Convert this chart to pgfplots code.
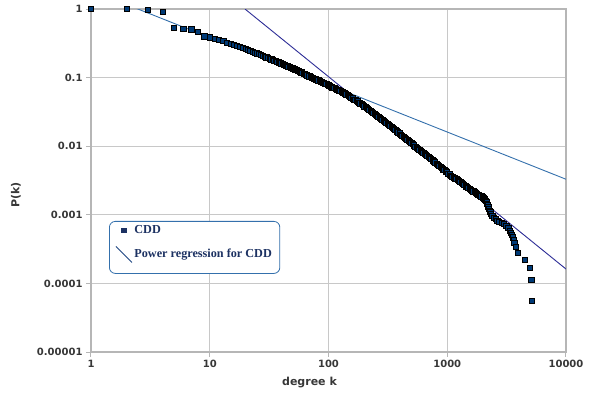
\documentclass[border=0pt]{standalone}
\usepackage{fontspec}
\setmainfont{DejaVu Sans}
\newfontfamily\legfont{Liberation Serif}
\usepackage{pgfplots}
\pgfplotsset{compat=1.18}
\definecolor{cdd}{RGB}{0,58,118}
\definecolor{reg1}{RGB}{52,112,172}
\definecolor{reg2}{RGB}{44,44,150}
\definecolor{gridc}{RGB}{200,200,200}
\definecolor{axc}{RGB}{182,182,182}
\definecolor{txt}{RGB}{55,55,55}
\definecolor{legtxt}{RGB}{28,49,98}
\definecolor{legbox}{RGB}{52,112,172}
\definecolor{legline}{RGB}{30,70,130}
\begin{document}
\begin{tikzpicture}
\useasboundingbox (-91bp,-42bp) rectangle (501bp,352bp);
\begin{axis}[
  at={(0,0)}, anchor=south west,
  scale only axis, width=475bp, height=343bp,
  xmode=log, ymode=log,
  xmin=1, xmax=10000, ymin=0.00001, ymax=1,
  xtick={1,10,100,1000,10000},
  xticklabels={1,10,100,1000,10000},
  ytick={0.00001,0.0001,0.001,0.01,0.1,1},
  yticklabels={0.00001,0.0001,0.001,0.01,0.1,1},
  minor tick length=0pt,
  minor tick style={draw=none},
  xtick pos=bottom, ytick pos=left,
  tick align=outside,
  major tick length=5bp,
  tick style={axc, line width=1bp},
  axis line style={axc, line width=1.2bp},
  grid=major,
  major grid style={gridc, line width=0.9bp},
  ticklabel style={font=\fontsize{10bp}{12bp}\selectfont\bfseries, text=txt},
  xlabel={degree k},
  xlabel style={at={(axis description cs:0.46,-0.0729)}, anchor=north, inner sep=0pt, font=\fontsize{11bp}{13bp}\selectfont\bfseries, text=txt},
  ylabel={P(k)},
  ylabel style={at={(axis description cs:-0.158,0.458)}, anchor=center, inner sep=0pt, font=\fontsize{11bp}{13bp}\selectfont\bfseries, text=txt},
  legend style={at={(axis description cs:0.0379,0.382)}, anchor=north west, draw=legbox, line width=0.8bp, rounded corners=6bp, fill=white, font=\legfont\fontsize{12.2bp}{14bp}\selectfont\bfseries, text=legtxt, inner xsep=6bp, inner ysep=2bp, row sep=9bp},
  legend cell align=left,
]
\addplot[only marks, mark=square*, mark size=2.6bp, mark options={fill=cdd, draw=black, line width=0.7bp},
  legend image code/.code={\path[draw=none] (0bp,-6bp) rectangle (16bp,6bp);\fill[sharp corners, legtxt] (5.8bp,-2.2bp) rectangle (10.2bp,2.2bp);}]
coordinates {
(1,1) (2,1) (3,0.97) (4,0.905) (5,0.535) (6,0.52) (7,0.505) (8,0.468) (9,0.40)
(10,0.385) (11,0.37) (12,0.355) (13,0.34) (14,0.325) (15,0.312) (16,0.30) (17,0.29)
(18,0.28) (19,0.27) (20,0.26) (21,0.252) (22,0.245) (23,0.238) (24,0.231) (25,0.225)
(26,0.219) (27,0.213) (28,0.208) (29,0.203) (30,0.198) (31,0.193) (32,0.189) (33,0.185) (34,0.181) (35,0.177) (36,0.174)
(37,0.170) (38,0.167) (39,0.164) (40,0.161) (41,0.158) (42,0.155) (43,0.152) (44,0.150) (45,0.147) (46,0.145) (47,0.142) (48,0.140) (49,0.138) (50,0.136) (51,0.134) (52,0.132) (53,0.130)
(54,0.128) (55,0.126) (56,0.124) (57,0.122) (58,0.120) (59,0.119) (60,0.117) (62,0.114) (63,0.112) (65,0.110) (66,0.108) (68,0.106) (69,0.104) (71,0.102) (72,0.100) (74,0.099) (75,0.097) (77,0.096)
(78,0.094) (80,0.093) (82,0.091) (84,0.089) (86,0.087) (88,0.086) (90,0.084) (92,0.083) (94,0.081) (96,0.080) (98,0.078) (100,0.077) (102,0.075) (105,0.074) (107,0.072) (110,0.071)
(112,0.070) (115,0.069) (117,0.067) (120,0.066) (123,0.065) (126,0.064) (129,0.062) (132,0.061) (135,0.060) (138,0.059) (141,0.057) (145,0.056) (148,0.054) (152,0.053) (156,0.051)
(160,0.050) (164,0.048) (168,0.047) (172,0.046) (176,0.045) (180,0.043) (185,0.042) (190,0.041) (195,0.040) (200,0.038) (205,0.037) (210,0.036) (215,0.035)
(220,0.034) (226,0.033) (232,0.032) (238,0.031) (244,0.030) (250,0.029) (256,0.028) (263,0.027) (270,0.026) (277,0.025) (284,0.0242) (291,0.0235) (298,0.0227) (306,0.022)
(314,0.0212) (322,0.0205) (330,0.0197) (339,0.019) (348,0.0183) (357,0.0177) (366,0.0171) (376,0.0165) (386,0.0159) (396,0.0154) (406,0.0148) (417,0.0143) (428,0.0138) (439,0.0133)
(450,0.0128) (462,0.0124) (474,0.0119) (486,0.0115) (499,0.0111) (512,0.0107) (525,0.0103) (539,0.0099) (553,0.0095) (567,0.0092) (582,0.0089) (597,0.0086) (612,0.0083) (628,0.0080)
(644,0.0077) (661,0.0075) (678,0.0072) (696,0.0070) (714,0.0067) (733,0.0065) (752,0.0062) (771,0.0060) (791,0.0058) (812,0.0056) (833,0.0054) (855,0.0052) (877,0.0050) (900,0.0048)
(923,0.0046) (947,0.0045) (972,0.0043) (997,0.0042) (1023,0.0040) (1049,0.0039) (1076,0.0037) (1104,0.0036) (1133,0.0035) (1162,0.0034) (1192,0.0033) (1223,0.0032)
(1255,0.0031) (1287,0.0030) (1320,0.0029) (1355,0.0028) (1390,0.0027) (1426,0.0026) (1463,0.00255) (1500,0.0025) (1540,0.0024) (1580,0.0023) (1620,0.00225) (1660,0.0022)
(1705,0.00215) (1750,0.0021) (1785,0.00204) (1820,0.00198) (1860,0.00194) (1900,0.00190) (1940,0.00186) (1980,0.00182) (2015,0.00177) (2050,0.00172) (2080,0.00166) (2110,0.00160)
(2140,0.00152) (2170,0.00145) (2195,0.00137) (2220,0.00130) (2250,0.00122) (2280,0.00115) (2310,0.00109) (2340,0.00103) (2400,0.00096) (2470,0.00091)
(2550,0.00087) (2640,0.00082) (2730,0.00079) (2870,0.00076) (3006,0.00073) (3150,0.00069)
(3272,0.00065) (3380,0.00059) (3440,0.00055) (3500,0.00051) (3560,0.00047) (3620,0.00043)
(3680,0.00039) (3767,0.00034) (3915,0.00028) (4515,0.00022) (4946,0.00017) (5103,0.000112)
(5174,0.000055)
};
\addlegendentry{CDD}
\addplot[reg1, line width=0.9bp, no marks,
  legend image code/.code={\path[draw=none] (0bp,-17bp) rectangle (16bp,8bp);\draw[sharp corners, line width=1bp, legline] (0bp,8bp) -- (16bp,-8bp);}]
coordinates {(1,1.87) (10000,0.0033)};
\addlegendentry{Power regression for CDD}
\addplot[reg2, line width=0.9bp, no marks, forget plot]
coordinates {(19.8,1) (10000,0.000162)};
\end{axis}
\end{tikzpicture}
\end{document}
